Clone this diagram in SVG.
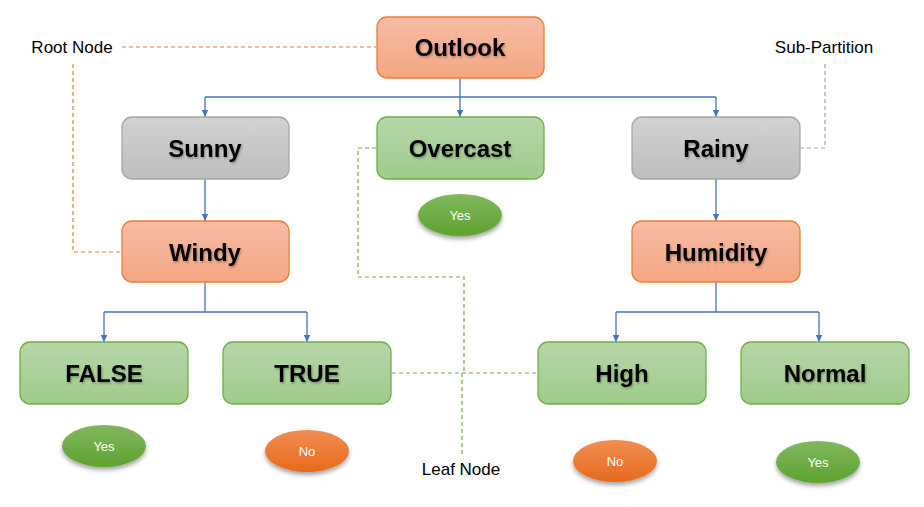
<svg xmlns="http://www.w3.org/2000/svg" width="924" height="507" viewBox="0 0 924 507">
<defs>
<linearGradient id="gO" x1="0" y1="0" x2="0" y2="1"><stop offset="0" stop-color="#F7BDA3"/><stop offset="1" stop-color="#F4A683"/></linearGradient>
<linearGradient id="gG" x1="0" y1="0" x2="0" y2="1"><stop offset="0" stop-color="#D2D2D2"/><stop offset="1" stop-color="#BEBEBE"/></linearGradient>
<linearGradient id="gN" x1="0" y1="0" x2="0" y2="1"><stop offset="0" stop-color="#B6D7A8"/><stop offset="1" stop-color="#9FCB8A"/></linearGradient>
<linearGradient id="eG" x1="0" y1="0" x2="0" y2="1"><stop offset="0" stop-color="#80B85E"/><stop offset="1" stop-color="#5EA32F"/></linearGradient>
<linearGradient id="eO" x1="0" y1="0" x2="0" y2="1"><stop offset="0" stop-color="#F28D52"/><stop offset="1" stop-color="#E56A1C"/></linearGradient>
<filter id="sh" x="-20%" y="-20%" width="140%" height="160%"><feDropShadow dx="0" dy="3" stdDeviation="2" flood-color="#000" flood-opacity="0.35"/></filter>
<filter id="ts" x="-10%" y="-20%" width="120%" height="150%"><feDropShadow dx="1" dy="1.5" stdDeviation="1" flood-color="#000" flood-opacity="0.3"/></filter>
<marker id="ar" markerWidth="8" markerHeight="8" refX="7.5" refY="4" orient="auto" markerUnits="userSpaceOnUse" viewBox="0 0 8 8"><path d="M0.5,0.8 L7.5,4 L0.5,7.2 Z" fill="#4472C4"/></marker>
</defs>
<style>
.box{stroke-width:1.3}
.o{fill:url(#gO);stroke:#ED7D31}
.g{fill:url(#gG);stroke:#A5A5A5}
.n{fill:url(#gN);stroke:#70AD47}
.lbl{font-family:"Liberation Sans",Arial,sans-serif;font-weight:bold;font-size:24px;fill:#000;text-anchor:middle;dominant-baseline:central;filter:url(#ts)}
.note{font-family:"Liberation Sans",Arial,sans-serif;font-size:17px;fill:#000;text-anchor:middle;dominant-baseline:central}
.leaf{font-family:"Liberation Sans",Arial,sans-serif;font-size:13px;fill:#fff;text-anchor:middle;dominant-baseline:central}
.c{fill:none;stroke:#4472C4;stroke-width:1.3}
.d{fill:none;stroke-width:1.2;stroke-dasharray:4 3}
</style>
<g id="connectors">
<path class="c" d="M460,78 V97 M205,97 H716" />
<path class="c" d="M205,97 V117" marker-end="url(#ar)"/>
<path class="c" d="M460,97 V117" marker-end="url(#ar)"/>
<path class="c" d="M716,97 V117" marker-end="url(#ar)"/>
<path class="c" d="M205,179 V221" marker-end="url(#ar)"/>
<path class="c" d="M716,179 V221" marker-end="url(#ar)"/>
<path class="c" d="M205,282 V312 M104,312 H307"/>
<path class="c" d="M104,312 V342" marker-end="url(#ar)"/>
<path class="c" d="M307,312 V342" marker-end="url(#ar)"/>
<path class="c" d="M716,282 V312 M616,312 H819"/>
<path class="c" d="M616,312 V342" marker-end="url(#ar)"/>
<path class="c" d="M819,312 V342" marker-end="url(#ar)"/>
<path class="d" stroke="#ED7D31" d="M122,47 H376 M73,64 V252 H121"/>
<path class="d" stroke="#A5A5A5" d="M825,64 V148 H801"/>
<path class="d" stroke="#70AD47" d="M376,148 H358 V277 H464 V373 M392,373 H537 M462,373 V455"/>
</g>
<g id="outlook"><rect class="box o" x="377" y="17" width="167" height="61" rx="10"/><text class="lbl" x="460" y="47">Outlook</text></g>
<g id="sunny"><rect class="box g" x="122" y="117" width="167" height="62" rx="10"/><text class="lbl" x="205" y="148">Sunny</text></g>
<g id="overcast"><rect class="box n" x="377" y="117" width="167" height="62" rx="10"/><text class="lbl" x="460" y="148">Overcast</text></g>
<g id="rainy"><rect class="box g" x="632" y="117" width="168" height="62" rx="10"/><text class="lbl" x="716" y="148">Rainy</text></g>
<g id="windy"><rect class="box o" x="122" y="221" width="167" height="61" rx="10"/><text class="lbl" x="205" y="252">Windy</text></g>
<g id="humidity"><rect class="box o" x="632" y="221" width="168" height="61" rx="10"/><text class="lbl" x="716" y="252">Humidity</text></g>
<g id="false"><rect class="box n" x="20" y="342" width="168" height="62" rx="10"/><text class="lbl" x="104" y="373">FALSE</text></g>
<g id="true"><rect class="box n" x="223" y="342" width="168" height="62" rx="10"/><text class="lbl" x="307" y="373">TRUE</text></g>
<g id="high"><rect class="box n" x="538" y="342" width="168" height="62" rx="10"/><text class="lbl" x="622" y="373">High</text></g>
<g id="normal"><rect class="box n" x="741" y="342" width="168" height="62" rx="10"/><text class="lbl" x="825" y="373">Normal</text></g>
<g id="yes-overcast"><ellipse cx="460" cy="215" rx="42" ry="21" fill="url(#eG)" filter="url(#sh)"/><text class="leaf" x="460" y="215">Yes</text></g>
<g id="yes-false"><ellipse cx="104" cy="446" rx="42" ry="21" fill="url(#eG)" filter="url(#sh)"/><text class="leaf" x="104" y="446">Yes</text></g>
<g id="no-true"><ellipse cx="307" cy="451" rx="42" ry="21" fill="url(#eO)" filter="url(#sh)"/><text class="leaf" x="307" y="451">No</text></g>
<g id="no-high"><ellipse cx="615" cy="461" rx="42" ry="21" fill="url(#eO)" filter="url(#sh)"/><text class="leaf" x="615" y="461">No</text></g>
<g id="yes-normal"><ellipse cx="818" cy="462" rx="42" ry="21" fill="url(#eG)" filter="url(#sh)"/><text class="leaf" x="818" y="462">Yes</text></g>
<g id="root-note"><text class="note" x="72" y="47">Root Node</text></g>
<g id="sub-note"><text class="note" x="824" y="47">Sub-Partition</text></g>
<g id="leaf-note"><text class="note" x="461" y="469">Leaf Node</text></g>
</svg>
